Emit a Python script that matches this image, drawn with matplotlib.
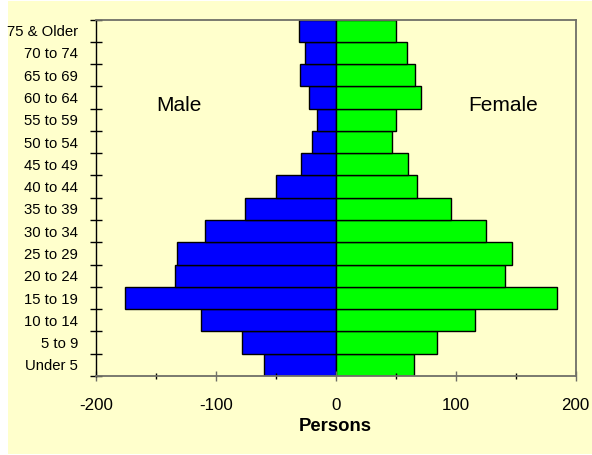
#Population pyramid: male vs female persons by age group
from matplotlib import pyplot as plt
from matplotlib import patches as mp
import numpy as np

plt.rcParams['font.family'] = ['Liberation Sans', 'DejaVu Sans']

AGES = [
    'Under 5', '5 to 9', '10 to 14', '15 to 19', '20 to 24', '25 to 29',
    '30 to 34', '35 to 39', '40 to 44', '45 to 49', '50 to 54', '55 to 59',
    '60 to 64', '65 to 69', '70 to 74', '75 & Older',
]

#male counts plotted as negatives on the left
MALE = [60, 78, 112, 176, 134, 132, 109, 76, 50, 29, 20, 16, 22, 30, 26, 31]
FEMALE = [65, 84, 116, 184, 141, 147, 125, 96, 68, 60, 47, 50, 71, 66, 59, 50]

BG = '#FFFFCC'
FRAME = '#707068'

fig = plt.figure(figsize=(5.92, 4.55), dpi=100, facecolor='white')
# yellow chart area (thin white margin on the left like the original)
fig.patches.append(mp.Rectangle((8 / 592, 1 / 455), 584 / 592, 453 / 455,
                                transform=fig.transFigure, facecolor=BG,
                                edgecolor='none', zorder=-5))

ax = fig.add_axes([95.7 / 592, 1 - 376 / 455, 480 / 592, 356.5 / 455])
ax.set_facecolor(BG)

y = np.arange(len(AGES))
ax.barh(y, -np.array(MALE), height=1.0, color='#0000FF', edgecolor='black', linewidth=1)
ax.barh(y, FEMALE, height=1.0, color='#00FF00', edgecolor='black', linewidth=1)

ax.set_xlim(-200, 200)
ax.set_ylim(-0.5, len(AGES) - 0.5)

# category axis: labels centred on bars, ticks between categories
ax.set_yticks(y)
ax.set_yticklabels(AGES, fontsize=10.7)
ax.tick_params(axis='y', which='major', length=0, pad=12.5)
ax.set_yticks(np.arange(-0.5, len(AGES), 1.0), minor=True)
ax.tick_params(axis='y', which='minor', direction='inout', length=8.6, width=1, color='black')

ax.set_xticks([-200, -100, 0, 100, 200])
ax.set_xticklabels(['-200', '-100', '0', '100', '200'], fontsize=12.2)
ax.set_xticks([-150, -50, 50, 150], minor=True)
ax.tick_params(axis='x', which='major', direction='inout', length=7, width=1, color=FRAME, pad=12.5)
ax.tick_params(axis='x', which='minor', direction='inout', length=5, width=1, color='black')

ax.set_xlabel('Persons', fontsize=13.3, fontweight='bold', labelpad=3.5)

for side in ['top', 'right', 'bottom']:
    ax.spines[side].set_color(FRAME)
    ax.spines[side].set_linewidth(1.3)
ax.spines['left'].set_color('black')
ax.spines['left'].set_linewidth(1)

ax.text(-131, 11.66, 'Male', fontsize=15, ha='center', va='center')
ax.text(139.5, 11.66, 'Female', fontsize=15, ha='center', va='center')

plt.savefig('out.png', dpi=100, facecolor='white')
